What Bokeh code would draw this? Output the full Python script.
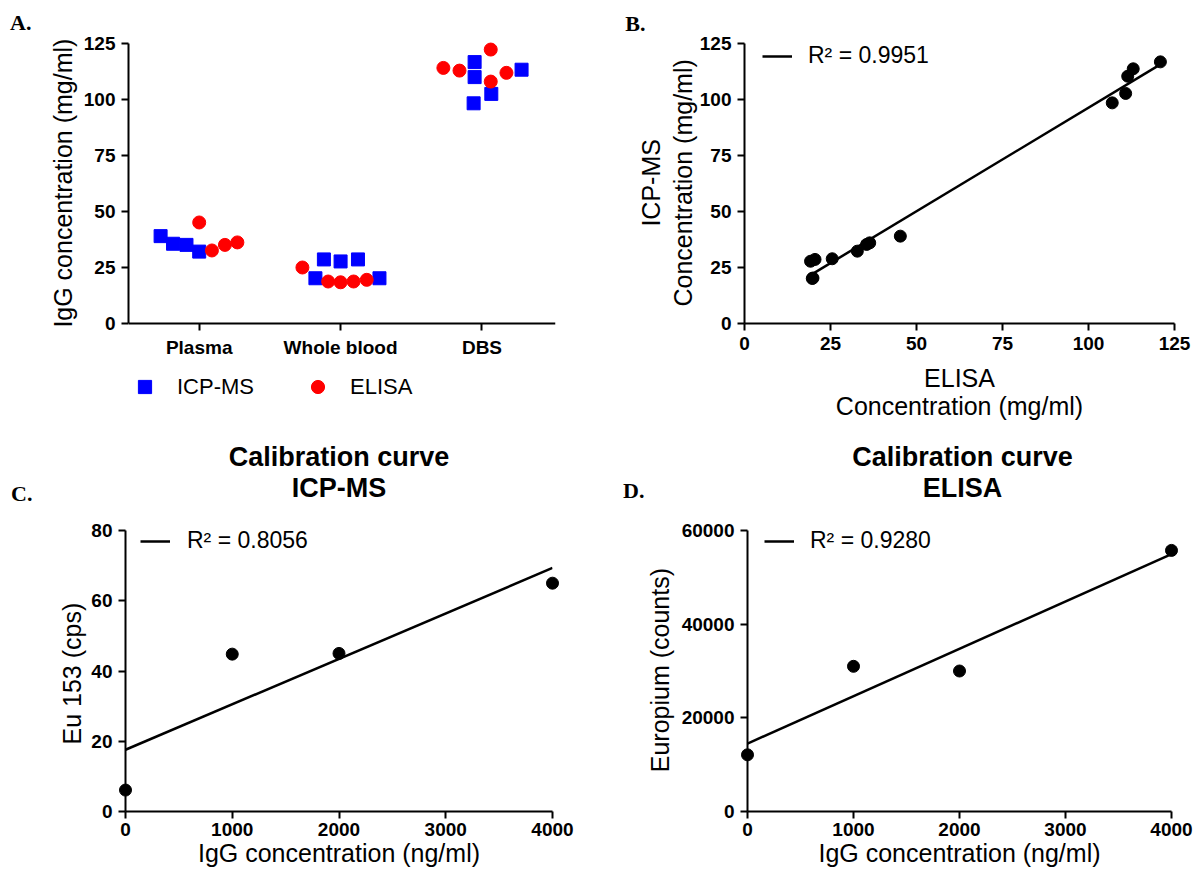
import numpy as np
from bokeh.plotting import figure
from bokeh.models import Range1d, FixedTicker, Legend, LegendItem, Label, LinearAxis
from bokeh.layouts import row, column
from bokeh.embed import file_html
from bokeh.resources import INLINE

# ---------------- data ----------------
categories = ["Plasma", "Whole blood", "DBS"]
icp_plasma = [39.0, 35.6, 35.1, 32.1]
elisa_plasma = [45.1, 32.6, 35.1, 36.2]
icp_whole_blood = [20.2, 28.6, 27.7, 28.6, 20.2]
elisa_whole_blood = [25.0, 18.75, 18.4, 18.75, 19.5]
icp_dbs = [116.7, 110.0, 98.3, 102.5, 113.3]
elisa_dbs = [114.1, 112.9, 122.3, 108.0, 111.9]

# panel B: ELISA (x) vs ICP-MS (y)
elisa_corr = [19.7, 19.9, 19.2, 20.5, 25.5, 32.8, 35.5, 36.4, 45.3, 106.9, 110.8, 111.4, 113.0, 120.9]
icp_corr = [20.1, 20.3, 27.8, 28.6, 28.9, 32.3, 35.3, 36.0, 39.0, 98.5, 102.7, 110.4, 113.7, 116.8]
r2_corr = "0.9951"

# calibration curves
cal_conc = [0, 1000, 2000, 4000]
cal_icp = [6.1, 44.8, 45.0, 65.0]
r2_icp = "0.8056"
cal_elisa = [12100, 31000, 30000, 55750]
r2_elisa = "0.9280"

# ---------------- layout helpers ----------------
# horizontal placement of the points inside each column (category units)
swarm_icp = [[-0.273, -0.185, -0.090, 0.0],
             [-0.178, -0.118, 0.0, 0.123, 0.275],
             [-0.052, -0.052, -0.059, 0.066, 0.280]]
swarm_elisa = [[0.0, 0.090, 0.182, 0.270],
               [-0.270, -0.088, 0.0, 0.092, 0.185],
               [-0.273, -0.159, 0.062, 0.062, 0.173]]

FONT = "Liberation Sans"
SERIF = "Liberation Serif"
NB = "\u00a0"   # padding that moves an axis title along its axis


def make_fig(w, h, mbl, mbr, mbt, mbb, xr, yr):
    p = figure(width=w, height=h, x_range=Range1d(*xr), y_range=Range1d(*yr),
               output_backend="svg", toolbar_location=None,
               min_border_left=mbl, min_border_right=mbr,
               min_border_top=mbt, min_border_bottom=mbb)
    try:
        p.frame_align = False
    except Exception:
        pass
    p.outline_line_color = None
    p.xgrid.visible = False
    p.ygrid.visible = False
    return p


def style(p, xticks, yticks, xlab_standoff=8, ylab_standoff=7, xtick_standoff=6):
    for ax in (p.xaxis[0], p.yaxis[0]):
        ax.axis_line_width = 2
        ax.axis_line_color = "black"
        ax.major_tick_line_width = 2
        ax.major_tick_line_color = "black"
        ax.major_tick_out = 7
        ax.major_tick_in = 0
        ax.minor_tick_line_color = None
        ax.major_label_text_font = FONT
        ax.major_label_text_font_size = "19px"
        ax.major_label_text_font_style = "bold"
        ax.major_label_text_color = "black"
        ax.major_label_standoff = 6
        ax.axis_label_text_font = FONT
        ax.axis_label_text_font_size = "25px"
        ax.axis_label_text_font_style = "normal"
        ax.axis_label_text_color = "black"
    p.xaxis[0].major_label_standoff = xtick_standoff
    p.xaxis[0].axis_label_standoff = xlab_standoff
    p.yaxis[0].axis_label_standoff = ylab_standoff
    p.xaxis.ticker = FixedTicker(ticks=xticks)
    p.yaxis.ticker = FixedTicker(ticks=yticks)


def letter_axis(p, text, frame_h, y_px, standoff):
    # an extra, line-less left axis whose only tick label is the panel letter
    p.extra_y_ranges = {"letter": Range1d(start=frame_h, end=0)}
    ax = LinearAxis(y_range_name="letter", ticker=FixedTicker(ticks=[y_px]),
                    major_label_overrides={y_px: text}, axis_line_color=None,
                    major_tick_line_color=None, minor_tick_line_color=None,
                    major_tick_out=0, major_tick_in=0, major_label_standoff=standoff,
                    major_label_text_font=SERIF, major_label_text_font_style="bold",
                    major_label_text_font_size="22px", major_label_text_color="black")
    p.add_layout(ax, "left")


def r2_legend(p, renderer, r2, vx, vy, standoff):
    leg = Legend(items=[LegendItem(label="R² = " + r2, renderers=[renderer])],
                 location=(vx, vy), glyph_width=30, glyph_height=26, label_height=26,
                 label_standoff=standoff, padding=0, margin=0, border_line_color=None,
                 background_fill_alpha=0, label_text_font=FONT, label_text_font_size="23px",
                 label_text_color="black")
    p.add_layout(leg)


def fit_line(p, xs, ys):
    slope, intercept = np.polyfit(np.asarray(xs, float), np.asarray(ys, float), 1)
    x0, x1 = min(xs), max(xs)
    return p.line([x0, x1], [slope * x0 + intercept, slope * x1 + intercept],
                  line_color="black", line_width=2.5)


def center_text(p, text, x, y):
    p.add_layout(Label(x=x, y=y, x_units="screen", y_units="screen", text=text,
                       text_font=FONT, text_font_style="bold", text_font_size="27px",
                       text_align="center", text_baseline="middle", text_color="black"))


# ---------------- top row geometry (pixels) ----------------
TOP_H = 438
TOP_AXIS_TOP, TOP_AXIS_ZERO = 43, 323      # where 125 and 0 sit
A_FRAME_BOTTOM = 400                         # panel A frame reaches below its x axis
px_per_unit = (TOP_AXIS_ZERO - TOP_AXIS_TOP) / 125.0

# ---------------- Panel A ----------------
pA = make_fig(620, TOP_H, 128, 65, 0, TOP_H - A_FRAME_BOTTOM, (-0.5, 2.52),
              (-(A_FRAME_BOTTOM - TOP_AXIS_ZERO) / px_per_unit, 125 + TOP_AXIS_TOP / px_per_unit))
style(pA, [0, 1, 2], [0, 25, 50, 75, 100, 125], ylab_standoff=4)
pA.xaxis.fixed_location = 0
pA.yaxis.bounds = (0, 125)
pA.xaxis.major_label_overrides = {i: c for i, c in enumerate(categories)}
pA.yaxis.axis_label = NB * 5 + "IgG concentration (mg/ml)"

icp_groups = [icp_plasma, icp_whole_blood, icp_dbs]
elisa_groups = [elisa_plasma, elisa_whole_blood, elisa_dbs]
icp_x, icp_y, el_x, el_y = [], [], [], []
for i in range(len(categories)):
    icp_x += [i + o for o in swarm_icp[i]]
    icp_y += icp_groups[i]
    el_x += [i + o for o in swarm_elisa[i]]
    el_y += elisa_groups[i]
r_icp = pA.scatter(icp_x, icp_y, marker="square", size=13, color="#0000FF", level="overlay")
r_el = pA.scatter(el_x, el_y, marker="circle", size=13, color="#FF0000", level="overlay")
legA = Legend(items=[LegendItem(label="ICP-MS", renderers=[r_icp]),
                     LegendItem(label="ELISA", renderers=[r_el])],
              location=(0, -3), orientation="horizontal", glyph_width=33, glyph_height=33,
              label_height=33, label_standoff=16, spacing=47, padding=0, margin=0,
              border_line_color=None, background_fill_alpha=0, label_text_font=FONT,
              label_text_font_size="22px", label_text_color="black")
pA.add_layout(legA)
letter_axis(pA, "A.", A_FRAME_BOTTOM, 22, 14)

# ---------------- Panel B ----------------
pB = make_fig(575, TOP_H, 124, 21, 0, TOP_H - TOP_AXIS_ZERO, (0, 125),
              (0, 125 + TOP_AXIS_TOP / px_per_unit))
style(pB, [0, 25, 50, 75, 100, 125], [0, 25, 50, 75, 100, 125], xlab_standoff=11, ylab_standoff=0)
pB.yaxis.bounds = (0, 125)
pB.xaxis.axis_label = "ELISA\nConcentration (mg/ml)"
pB.yaxis.axis_label = "ICP-MS" + NB * 6 + "\nConcentration (mg/ml)" + NB * 6
pB.xaxis.axis_label_text_line_height = 1.0
pB.yaxis.axis_label_text_line_height = 1.15
lineB = fit_line(pB, elisa_corr, icp_corr)
pB.scatter(elisa_corr, icp_corr, marker="circle", size=12, color="black", level="overlay")
r2_legend(pB, lineB, r2_corr, 18, 254, 16)
letter_axis(pB, "B.", TOP_AXIS_ZERO, 23, -12)

# ---------------- Panels C and D (frame reaches the top; axis drawn up to its last tick) ----------------
BOT_H, BOT_MBB = 441, 68
frame_h = BOT_H - BOT_MBB          # frame spans the full height above the x axis
axis_px = 281                      # pixel length of the drawn y axis

c_top = 80
pC = make_fig(620, BOT_H, 125, 68, 0, BOT_MBB, (0, 4000), (0, c_top * frame_h / axis_px))
style(pC, [0, 1000, 2000, 3000, 4000], [0, 20, 40, 60, 80], xlab_standoff=0, ylab_standoff=2,
      xtick_standoff=4)
pC.yaxis.bounds = (0, c_top)
pC.xaxis.axis_label = "IgG concentration (ng/ml)"
pC.yaxis.axis_label = "Eu 153 (cps)" + NB * 14
lineC = fit_line(pC, cal_conc, cal_icp)
pC.scatter(cal_conc, cal_icp, marker="circle", size=12, color="black", level="overlay")
r2_legend(pC, lineC, r2_icp, 15, 257, 17)
center_text(pC, "Calibration curve", 213.5, 355)
center_text(pC, "ICP-MS", 213.5, 324)
letter_axis(pC, "C.", frame_h, 55, 23)

d_top = 60000
pD = make_fig(575, BOT_H, 125, 24, 0, BOT_MBB, (0, 4000), (0, d_top * frame_h / axis_px))
style(pD, [0, 1000, 2000, 3000, 4000], [0, 20000, 40000, 60000], xlab_standoff=0, ylab_standoff=5,
      xtick_standoff=4)
pD.yaxis.bounds = (0, d_top)
pD.xaxis.axis_label = "IgG concentration (ng/ml)"
pD.yaxis.axis_label = "Europium (counts)" + NB * 13
lineD = fit_line(pD, cal_conc, cal_elisa)
pD.scatter(cal_conc, cal_elisa, marker="circle", size=12, color="black", level="overlay")
r2_legend(pD, lineD, r2_elisa, 17, 257, 16)
center_text(pD, "Calibration curve", 215, 355)
center_text(pD, "ELISA", 215, 324)
letter_axis(pD, "D.", frame_h, 52, -2)

layout = column(row(pA, pB), row(pC, pD))
open("out.html", "w").write(file_html(layout, INLINE))
